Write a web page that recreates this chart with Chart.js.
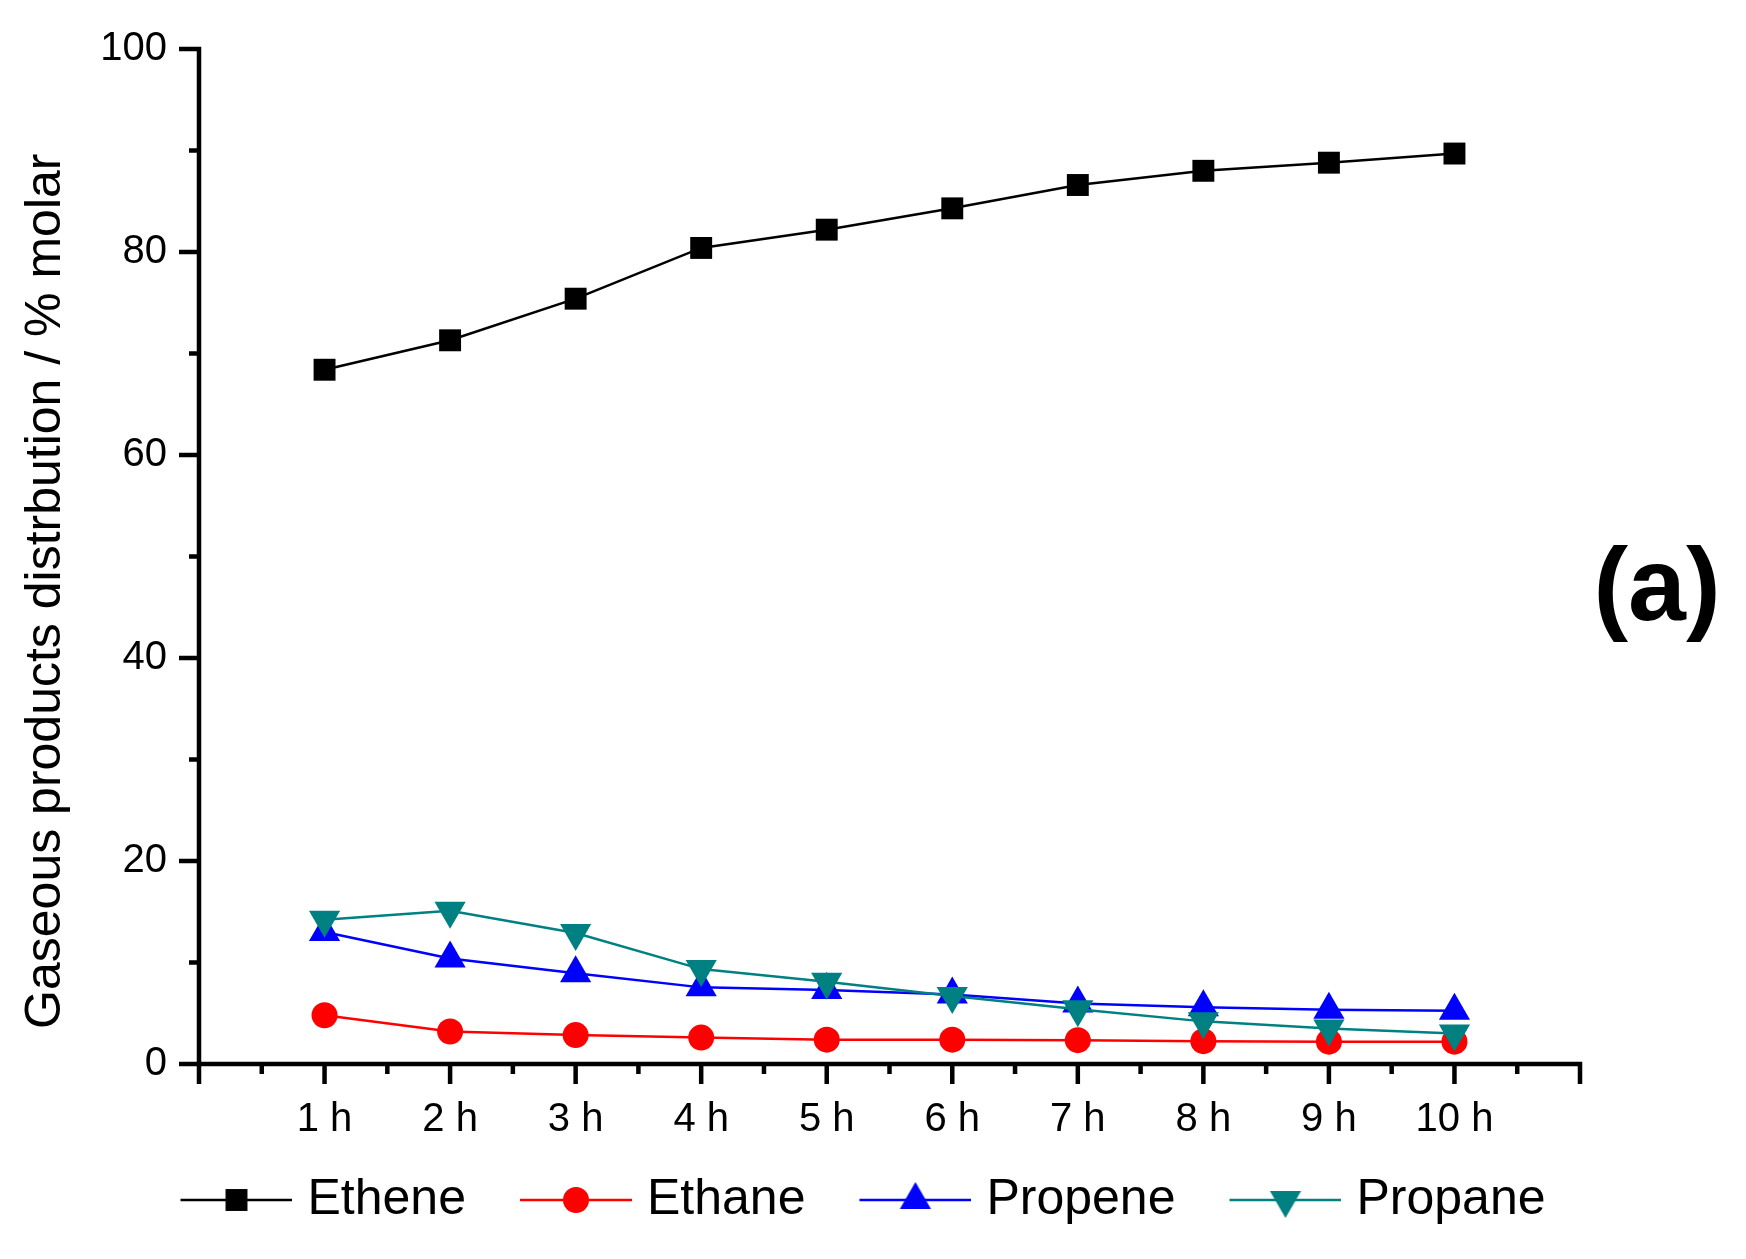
<!DOCTYPE html>
<html>
<head>
<meta charset="utf-8">
<script src="https://cdn.jsdelivr.net/npm/chart.js@4.4.0/dist/chart.umd.min.js"></script>
<style>
  html, body { margin: 0; padding: 0; background: #ffffff; }
  canvas { display: block; }
</style>
</head>
<body>
<canvas id="c" width="1746" height="1259" style="width:1746px;height:1259px"></canvas>
<script>
// ---- data ----
const categories = ['1 h', '2 h', '3 h', '4 h', '5 h', '6 h', '7 h', '8 h', '9 h', '10 h'];
const ethene  = [68.4, 71.3, 75.4, 80.4, 82.2, 84.3, 86.6, 88.0, 88.8, 89.7];
const ethane  = [4.8, 3.2, 2.85, 2.6, 2.4, 2.4, 2.35, 2.25, 2.2, 2.2];
const propene = [13.0, 10.4, 8.95, 7.55, 7.3, 6.85, 5.95, 5.6, 5.35, 5.25];
const propane = [14.2, 15.1, 12.9, 9.35, 8.1, 6.7, 5.4, 4.2, 3.5, 3.0];
const yTickValues = [0, 20, 40, 60, 80, 100];
const seriesNames = ['Ethene', 'Ethane', 'Propene', 'Propane'];
const yTitle = 'Gaseous products distrbution / % molar';
const panelLabel = '(a)';

// ---- style ----
const FONT = '"Liberation Sans", Arial, Helvetica, sans-serif';
const AXIS_W = 4.5;
const MAJOR_LEN = 20;
const MINOR_LEN = 10;
const LEG_BOX = 146;
const LEG_IMG_W = LEG_BOX + 20;
const LEG_LINE = 112;

function toPoints(values) {
  return values.map((v, i) => ({ x: i + 1, y: v }));
}

const styles = [
  { color: '#000000', pointStyle: 'rect',     radius: 15.5, rotation: 0,   order: 3 },
  { color: '#ff0000', pointStyle: 'circle',   radius: 13,   rotation: 0,   order: 2 },
  { color: '#0000ff', pointStyle: 'triangle', radius: 18,   rotation: 0,   order: 1 },
  { color: '#008080', pointStyle: 'triangle', radius: 18,   rotation: 180, order: 0 }
];
const seriesValues = [ethene, ethane, propene, propane];

const datasets = seriesValues.map((vals, i) => ({
  label: seriesNames[i],
  data: toPoints(vals),
  borderColor: styles[i].color,
  backgroundColor: styles[i].color,
  borderWidth: 2.5,
  tension: 0,
  fill: false,
  pointStyle: styles[i].pointStyle,
  pointRadius: styles[i].radius,
  pointHoverRadius: styles[i].radius,
  pointRotation: styles[i].rotation,
  pointBackgroundColor: styles[i].color,
  pointBorderColor: styles[i].color,
  pointBorderWidth: 0,
  order: styles[i].order
}));

function legendSample(st) {
  const c = document.createElement('canvas');
  c.width = LEG_IMG_W; c.height = 50;
  const g = c.getContext('2d');
  const x0 = LEG_IMG_W - LEG_LINE;
  g.strokeStyle = st.color;
  g.lineWidth = 2.5;
  g.beginPath();
  g.moveTo(x0, 25); g.lineTo(LEG_IMG_W, 25);
  g.stroke();
  g.fillStyle = st.color;
  g.strokeStyle = st.color;
  Chart.helpers.drawPoint(g, { pointStyle: st.pointStyle, radius: st.radius, rotation: st.rotation, borderWidth: 0 }, x0 + LEG_LINE / 2, 25);
  return c;
}

const framePlugin = {
  id: 'frame',
  afterDraw(chart) {
    const ctx = chart.ctx;
    const xs = chart.scales.x, ys = chart.scales.y;
    const xL = xs.getPixelForValue(xs.min), xR = xs.getPixelForValue(xs.max);
    const yB = ys.getPixelForValue(ys.min), yT = ys.getPixelForValue(ys.max);
    ctx.save();
    ctx.strokeStyle = '#000';
    ctx.lineWidth = AXIS_W;
    ctx.lineCap = 'butt';
    ctx.beginPath();
    ctx.moveTo(xL, yT - AXIS_W / 2); ctx.lineTo(xL, yB);
    ctx.moveTo(xL, yB); ctx.lineTo(xR + AXIS_W / 2, yB);
    for (let v = ys.min; v <= ys.max + 1e-9; v += 10) {
      const y = ys.getPixelForValue(v);
      const len = (Math.round(v) % 20 === 0) ? MAJOR_LEN : MINOR_LEN;
      ctx.moveTo(xL - len, y); ctx.lineTo(xL + AXIS_W / 2, y);
    }
    for (let v = xs.min; v <= xs.max + 1e-9; v += 0.5) {
      const x = xs.getPixelForValue(v);
      const len = Number.isInteger(v) ? MAJOR_LEN : MINOR_LEN;
      ctx.moveTo(x, yB - AXIS_W / 2); ctx.lineTo(x, yB + len);
    }
    ctx.stroke();
    ctx.fillStyle = '#000';
    ctx.font = 'bold 104px ' + FONT;
    ctx.textAlign = 'center';
    ctx.textBaseline = 'alphabetic';
    ctx.fillText(panelLabel, 1657, 620);
    ctx.restore();
  }
};

new Chart(document.getElementById('c'), {
  type: 'line',
  data: { datasets },
  options: {
    responsive: false,
    animation: false,
    devicePixelRatio: 1,
    layout: { padding: { top: 49, bottom: 24, left: 0, right: 64 } },
    plugins: {
      tooltip: { enabled: false },
      legend: {
        position: 'bottom',
        labels: {
          usePointStyle: true,
          pointStyleWidth: LEG_BOX,
          padding: 10,
          color: '#000',
          font: { family: FONT, size: 50 },
          generateLabels(chart) {
            return chart.data.datasets.map((ds, i) => ({
              text: ds.label,
              pointStyle: legendSample(styles[i]),
              fillStyle: styles[i].color,
              strokeStyle: styles[i].color,
              lineWidth: 0,
              hidden: false,
              datasetIndex: i,
              fontColor: '#000'
            }));
          }
        }
      }
    },
    scales: {
      x: {
        type: 'linear',
        min: 0,
        max: categories.length + 1,
        grid: { display: false, drawTicks: false },
        border: { display: false },
        ticks: {
          stepSize: 1,
          autoSkip: false,
          maxRotation: 0,
          padding: 32,
          color: '#000',
          font: { family: FONT, size: 40 },
          callback: (v) => (Number.isInteger(v) && v >= 1 && v <= categories.length) ? categories[v - 1] : ''
        },
        afterFit(s) { s.height = 101; }
      },
      y: {
        type: 'linear',
        min: yTickValues[0],
        max: yTickValues[yTickValues.length - 1],
        grid: { display: false, drawTicks: false },
        border: { display: false },
        ticks: {
          stepSize: yTickValues[1] - yTickValues[0],
          padding: 32,
          color: '#000',
          font: { family: FONT, size: 40 },
          callback: (v) => String(v)
        },
        title: {
          display: true,
          text: yTitle + '     ',
          color: '#000',
          font: { family: FONT, size: 50 },
          padding: { top: 16, bottom: 0 }
        },
        afterFit(s) { s.width = 199; s.paddingTop = 0; s.paddingBottom = 0; }
      },
      yR: {
        position: 'right',
        display: true,
        grid: { display: false, drawTicks: false },
        border: { display: false },
        ticks: { display: false },
        afterFit(s) { s.width = 102; s.paddingTop = 0; s.paddingBottom = 0; }
      }
    }
  },
  plugins: [framePlugin]
});
</script>
</body>
</html>
